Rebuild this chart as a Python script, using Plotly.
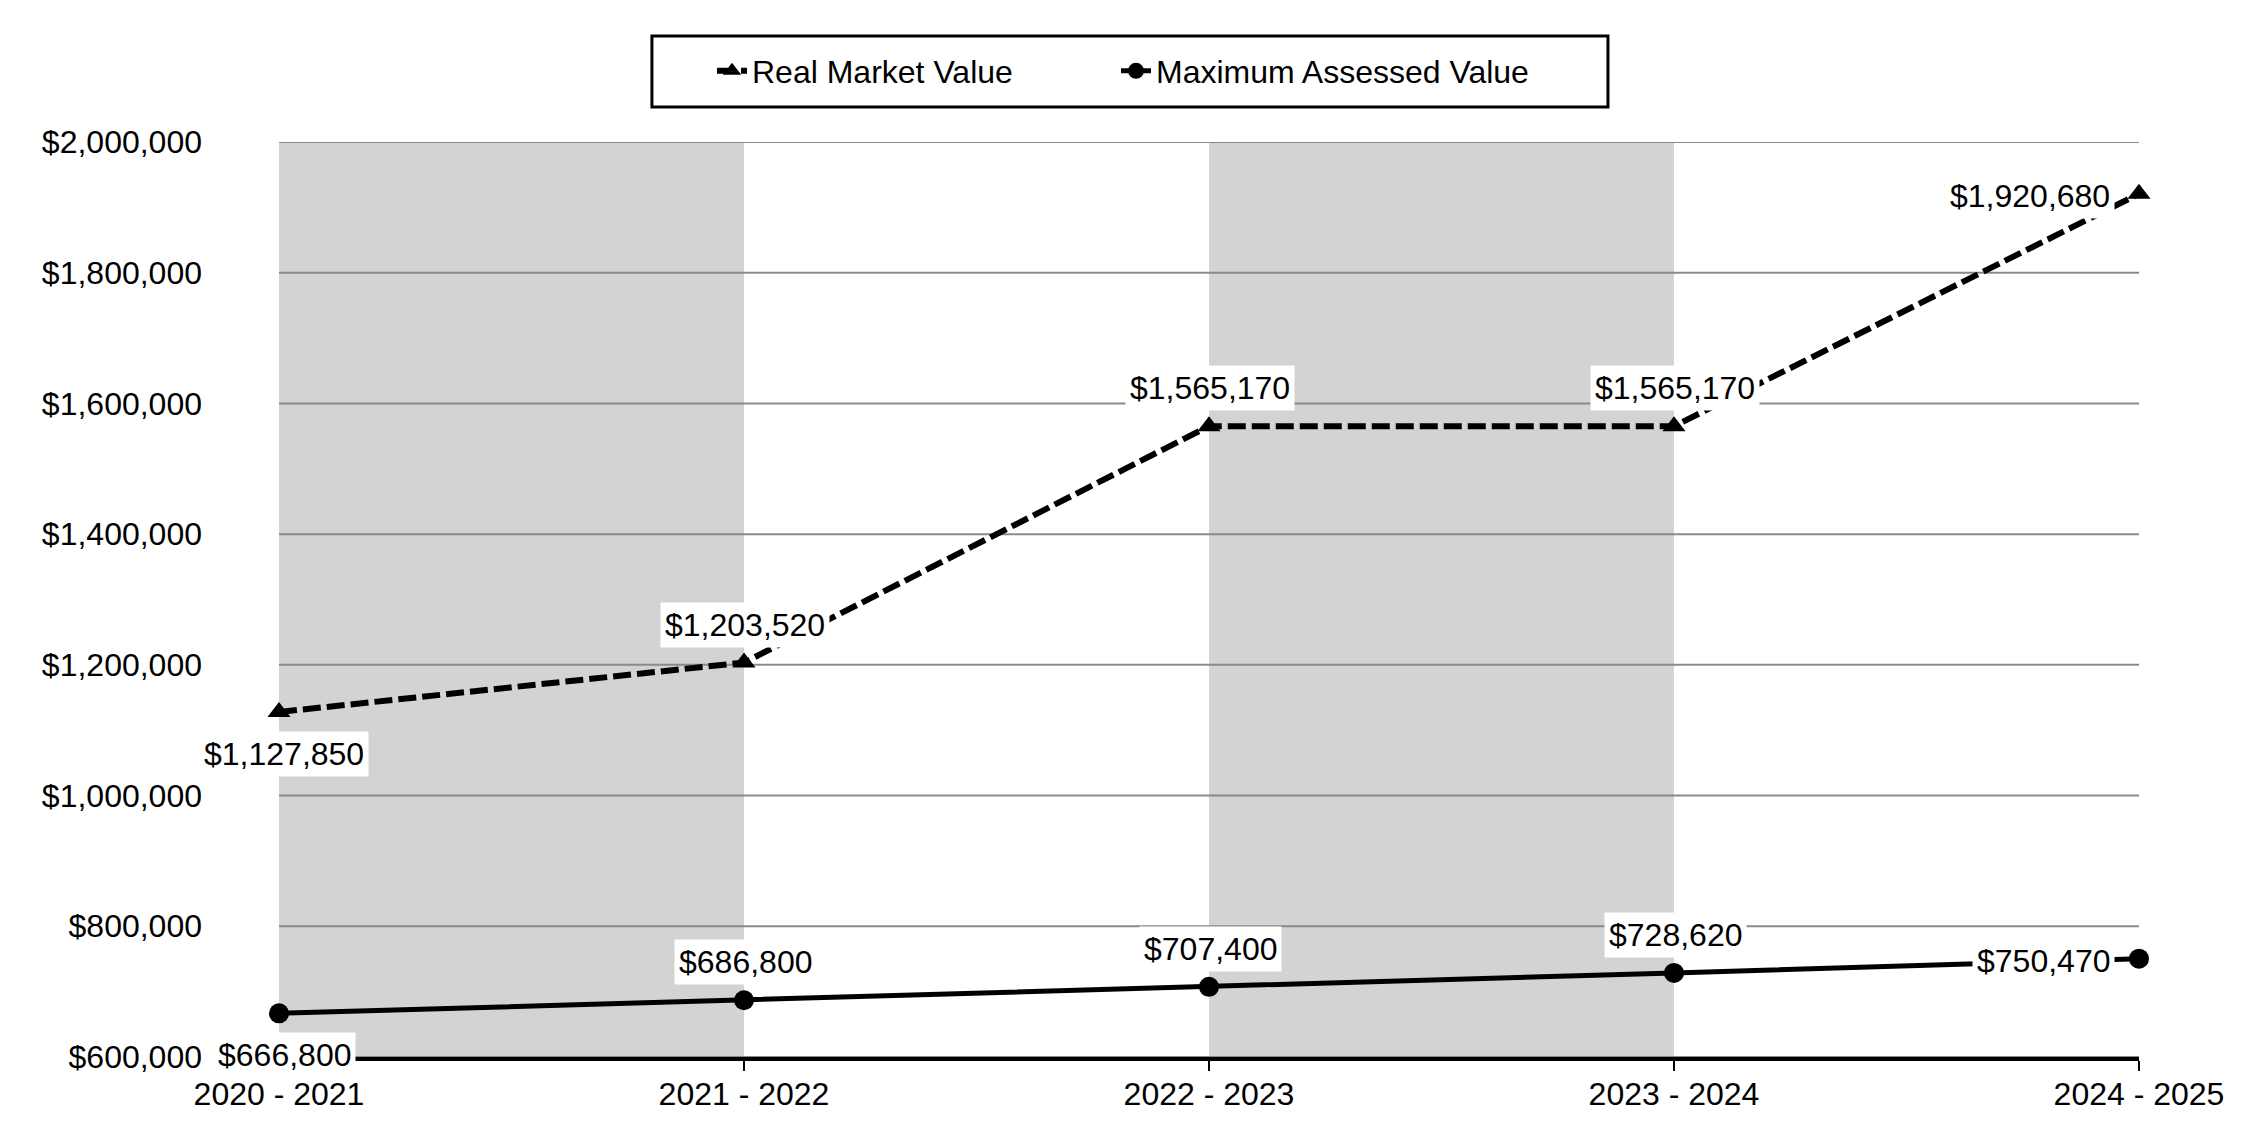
import plotly.graph_objects as go

categories = ["2020 - 2021", "2021 - 2022", "2022 - 2023", "2023 - 2024", "2024 - 2025"]
real_market_value = [1127850, 1203520, 1565170, 1565170, 1920680]
max_assessed_value = [666800, 686800, 707400, 728620, 750470]
y_tick_values = [600000, 800000, 1000000, 1200000, 1400000, 1600000, 1800000, 2000000]
shaded_pairs = [(categories[0], categories[1]), (categories[2], categories[3])]
rmv_label_side = ["below", "above", "above", "above", "left"]
mav_label_side = ["below", "above", "above", "above", "left"]

FONT = "Liberation Sans, Arial, sans-serif"
FS = 32

fig = go.Figure()
fig.add_trace(go.Scatter(
    x=categories, y=real_market_value, name="Real Market Value",
    mode="lines+markers",
    line=dict(color="black", width=6, dash="18px,6px"),
    marker=dict(symbol="triangle-up", size=20, color="black"),
    cliponaxis=False, legend="legend",
))
fig.add_trace(go.Scatter(
    x=categories, y=max_assessed_value, name="Maximum Assessed Value",
    mode="lines+markers",
    line=dict(color="black", width=5),
    marker=dict(symbol="circle", size=20, color="black"),
    cliponaxis=False, legend="legend2",
))

n_span = len(categories) - 1
y_min, y_max = min(y_tick_values), max(y_tick_values)
shapes = []
# alternating shaded columns (paper-x so they share the lower layer with the grid lines)
for a, b in shaded_pairs:
    shapes.append(dict(type="rect", xref="paper", yref="paper",
                       x0=categories.index(a) / n_span, x1=categories.index(b) / n_span,
                       y0=0, y1=1,
                       fillcolor="#d3d3d3", line=dict(width=0), layer="below"))
# horizontal grid lines drawn over the shaded columns
for v in y_tick_values:
    shapes.append(dict(type="line", xref="paper", yref="y", x0=0, x1=1, y0=v, y1=v,
                       line=dict(color="#8a8a8a", width=2), layer="below"))
# legend frame
shapes.append(dict(type="rect", xref="paper", yref="paper",
                   x0=0.2005, x1=0.7145, y0=1.0383, y1=1.1158,
                   line=dict(color="black", width=3), fillcolor="rgba(0,0,0,0)"))

def add_labels(values, sides):
    for c, v, s in zip(categories, values, sides):
        kw = dict(x=c, y=v, xref="x", yref="y", text="${:,.0f}".format(v),
                  showarrow=False, bgcolor="white", borderpad=4,
                  font=dict(family=FONT, size=FS, color="black"))
        if s == "below":
            kw.update(yshift=-42, xshift=5)
        elif s == "above":
            kw.update(yshift=38, xshift=1)
        else:
            kw.update(xanchor="right", xshift=-24, yshift=-2)
        fig.add_annotation(**kw)

add_labels(real_market_value, rmv_label_side)
add_labels(max_assessed_value, mav_label_side)

legend_common = dict(orientation="h", y=1.0776, yanchor="middle", xanchor="left",
                     font=dict(family=FONT, size=FS, color="black"),
                     bgcolor="rgba(0,0,0,0)", borderwidth=0)

fig.update_layout(
    width=2242, height=1132,
    margin=dict(l=271, r=111, t=134, b=83),
    paper_bgcolor="white", plot_bgcolor="rgba(0,0,0,0)",
    font=dict(family=FONT, size=FS, color="black"),
    shapes=shapes,
    showlegend=True,
    legend=dict(x=0.2328, **legend_common),
    legend2=dict(x=0.4500, **legend_common),
)
fig.update_xaxes(
    type="category", range=[0, n_span],
    showline=True, linecolor="black", linewidth=4,
    ticks="outside", ticklen=10, tickwidth=2, tickcolor="black",
    showgrid=False, zeroline=False, ticklabelstandoff=-4,
    tickfont=dict(family=FONT, size=FS, color="black"),
)
fig.update_yaxes(
    range=[y_min, y_max], tickvals=y_tick_values, tickformat="$,.0f",
    showgrid=False,
    showline=False, zeroline=False, ticks="", ticklabelstandoff=76,
    tickfont=dict(family=FONT, size=FS, color="black"),
)

fig.write_html("out.html")
